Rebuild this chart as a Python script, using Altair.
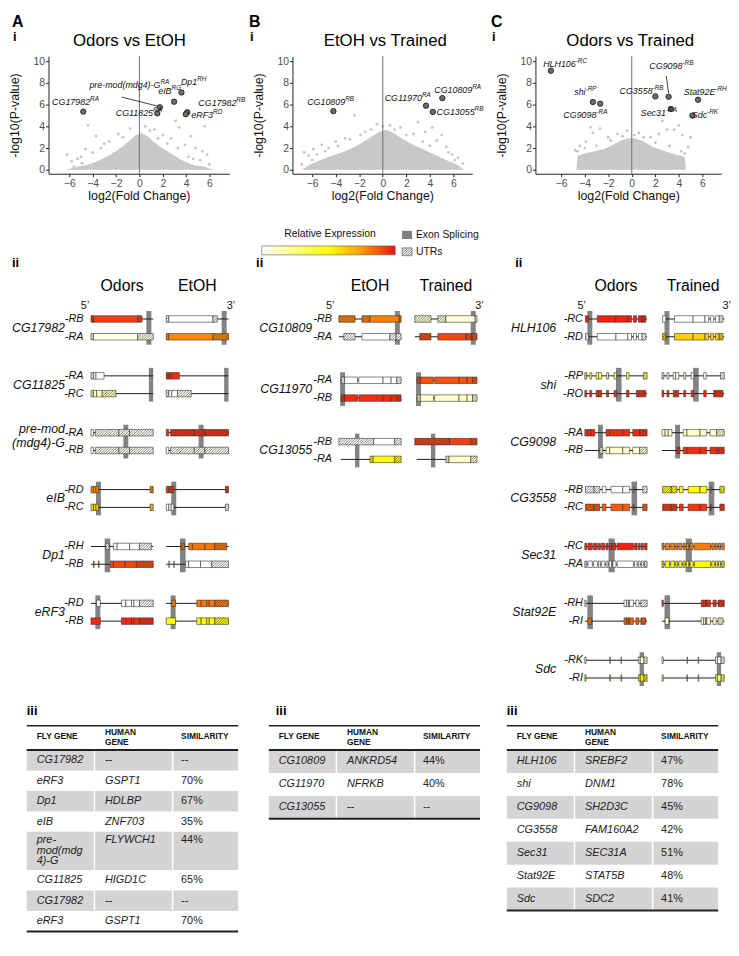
import altair as alt
import pandas as pd

FONT = "Liberation Sans"
INK = "#111111"

# ============================================================ row i : volcano plots
VOL_TITLES = ["Odors vs EtOH", "EtOH vs Trained", "Odors vs Trained"]
VOL_LETTERS = ["A", "B", "C"]
X_TICKS = [-6, -4, -2, 0, 2, 4, 6]
Y_TICKS = [0, 2, 4, 6, 8, 10]

# upper outline of the dense grey cloud of non-significant transcripts
CLOUD_A_X = [-6.3, -5.2, -4.5, -3.8, -3.2, -2.6, -2.0, -1.4, -0.8, -0.3, 0.2, 0.7, 1.2, 1.8, 2.4, 3.0, 3.6, 4.2, 4.8, 5.5, 6.4]
CLOUD_A_Y = [0.0, 0.3, 0.45, 0.7, 1.0, 1.3, 1.7, 2.2, 2.7, 3.2, 3.4, 3.1, 2.6, 2.1, 1.7, 1.3, 0.9, 0.6, 0.4, 0.3, 0.0]
CLOUD_B_X = [-6.9, -6.2, -5.5, -4.8, -4.0, -3.2, -2.4, -1.6, -0.9, -0.3, 0.3, 0.9, 1.6, 2.4, 3.2, 4.0, 4.8, 5.6, 6.3, 6.9]
CLOUD_B_Y = [0.0, 0.5, 0.8, 1.1, 1.4, 1.7, 2.1, 2.6, 3.1, 3.5, 3.7, 3.4, 2.9, 2.4, 2.0, 1.6, 1.2, 0.8, 0.5, 0.0]
CLOUD_C_X = [-4.7, -4.6, -4.0, -3.2, -2.4, -1.6, -0.9, -0.3, 0.3, 1.0, 1.8, 2.6, 3.4, 4.1, 4.5, 4.6]
CLOUD_C_Y = [0.0, 1.3, 1.5, 1.7, 1.9, 2.3, 2.7, 2.9, 2.9, 2.6, 2.1, 1.8, 1.5, 1.3, 1.2, 0.0]

# scattered grey points outside / along the edge of the dense cloud
SCAT_A_X = [-6.2, -5.8, -5.6, -5.3, -5.0, -4.9, -4.6, -4.4, -4.0, -3.7, -3.3, -3.0, -2.6, -2.2, -1.8, -1.4, -0.8,
            0.5, 0.9, 1.3, 1.6, 2.0, 2.4, 2.7, 3.1, 3.3, 3.4, 3.9, 4.2, 4.4, 4.6, 4.8, 5.2, 5.4, 5.6, 5.8, 6.0]
SCAT_A_Y = [1.4, 0.8, 0.3, 1.0, 1.2, 0.6, 1.9, 4.1, 1.6, 3.1, 2.0, 2.4, 2.6, 1.5, 3.3, 3.0, 3.8,
            4.0, 3.6, 3.7, 2.9, 3.2, 2.4, 2.9, 4.5, 2.0, 3.9, 2.3, 1.2, 3.1, 1.0, 2.0, 0.9, 1.7, 4.0, 1.4, 0.5]
SCAT_B_X = [-6.9, -6.7, -6.3, -6.0, -5.9, -5.6, -5.2, -4.9, -4.6, -4.0, -3.8, -3.2, -2.8, -2.4, -1.9, -1.5, -1.0,
            -0.5, 0.0, 0.6, 1.0, 1.5, 2.0, 2.6, 3.0, 3.4, 3.6, 4.0, 4.2, 4.6, 5.0, 5.4, 5.6, 5.9, 6.1, 6.4, 6.8]
SCAT_B_Y = [0.5, 1.6, 1.3, 0.9, 1.9, 1.4, 2.3, 1.7, 2.0, 2.6, 2.2, 2.9, 2.8, 5.0, 3.2, 3.5, 3.7,
            4.2, 4.0, 4.1, 3.7, 3.9, 3.2, 3.3, 4.4, 2.6, 3.5, 2.2, 3.9, 2.7, 3.2, 2.1, 1.6, 1.4, 0.9, 1.1, 0.6]
SCAT_C_X = [-4.8, -4.6, -4.4, -4.0, -3.9, -3.5, -3.3, -3.0, -2.7, -2.0, -1.8, -1.2, -0.8, -0.4, 0.2, 0.6, 1.0,
            1.6, 2.0, 2.3, 2.6, 3.0, 3.2, 3.6, 4.0, 4.2, 4.3, 4.5, 4.8, 5.0]
SCAT_C_Y = [1.8, 1.7, 2.2, 2.0, 2.6, 3.9, 3.4, 2.2, 3.8, 3.0, 2.7, 3.3, 3.1, 3.6, 3.2, 3.4, 3.0,
            3.0, 2.5, 3.3, 4.5, 3.7, 2.2, 3.7, 4.1, 1.7, 3.2, 1.5, 2.1, 3.0]

# highlighted transcripts
HIT_A_X = [-4.8, 1.75, 1.53, 2.97, 3.6, 4.1, 3.97]
HIT_A_Y = [5.36, 5.76, 5.2, 6.27, 7.12, 5.3, 5.12]
HIT_B_X = [-4.2, 3.67, 5.06, 4.25]
HIT_B_Y = [5.4, 5.9, 6.6, 5.33]
HIT_C_X = [-6.87, -3.3, -2.68, 2.0, 3.13, 3.32, 5.63, 5.15]
HIT_C_Y = [9.12, 6.24, 6.09, 6.76, 6.73, 5.6, 6.45, 5.0]

LAB_A_NAME = ["CG17982", "pre-mod(mdg4)-G", "eIB", "Dp1", "CG17982", "eRF3", "CG11825"]
LAB_A_SUP = ["RA", "RA", "RG", "RH", "RB", "RD", "RA"]
LAB_A_X = [-4.22, 1.8, 2.75, 4.95, 8.3, 6.3, 1.17]
LAB_A_Y = [6.0, 7.5, 6.95, 7.8, 5.9, 4.8, 4.94]
LAB_B_NAME = ["CG10809", "CG11970", "CG10809", "CG13055"]
LAB_B_SUP = ["RB", "RA", "RA", "RB"]
LAB_B_X = [-3.2, 3.33, 7.6, 7.8]
LAB_B_Y = [6.0, 6.36, 7.06, 5.03]
LAB_C_NAME = ["HLH106", "shi", "CG9098", "CG3558", "CG9098", "Sec31", "Stat92E", "Sdc"]
LAB_C_SUP = ["-RC", "-RP", "-RA", "-RB", "-RB", "-RA", "-RH", "-RK"]
LAB_C_X = [-4.76, -3.92, -3.0, 1.77, 4.3, 2.9, 7.1, 6.4]
LAB_C_Y = [9.48, 6.9, 4.79, 6.97, 9.27, 4.94, 6.9, 4.79]

LEAD_A = [[-1.53, 6.7, 1.67, 5.83]]
LEAD_B = []
LEAD_C = [[2.93, 8.64, 3.13, 7.06]]

# ============================================================ row ii : isoform structures
EXPR_STOPS = [0, 0.5, 0.75, 1]
EXPR_COLORS = ["#ffffff", "#ffff00", "#ff9900", "#ee1111"]
LEGEND_TITLE = "Relative Expression"
LEGEND_ITEMS = ["Exon Splicing", "UTRs"]

COND_A = ["Odors", "EtOH"]
GENE_A = ["CG17982", "CG11825", "pre-mod\n(mdg4)-G", "eIB", "Dp1", "eRF3"]
ISO_A = [["-RB", "-RA"], ["-RA", "-RC"], ["-RA", "-RB"], ["-RD", "-RC"], ["-RH", "-RB"], ["-RD", "-RB"]]
EXPR_A = [
    [[0.92, 0.00], [0.05, 0.78]],
    [[0.00, 0.95], [0.14, 0.02]],
    [[0.02, 0.95], [0.02, 0.02]],
    [[0.78, 0.95], [0.60, 0.00]],
    [[0.00, 0.82], [0.90, 0.00]],
    [[0.00, 0.82], [0.95, 0.50]],
]
SPLICE_A = [[89, 97], [93, 100], [52, 60], [8, 16], [22, 31], [7, 15]]
SPAN_A = [[[0, 100], [0, 100]]] * 6
EXON_A = [
    [[[0, 4, 1], [4, 75, 0], [75, 82, 1]], [[0, 4, 1], [4, 75, 0], [75, 100, 1]]],
    [[[0, 4, 1], [4, 8, 0], [8, 21, 0]], [[0, 4, 1], [4, 9, 0], [9, 18, 0], [18, 40, 1]]],
    [[[0, 4, 0], [7, 45, 1], [45, 62, 1], [62, 100, 1]], [[0, 4, 0], [7, 45, 1], [45, 62, 1], [62, 100, 1]]],
    [[[0, 4, 0], [4, 8, 0], [8, 12, 0], [95, 100, 1]], [[0, 4, 0], [4, 8, 0], [8, 12, 0], [95, 100, 1]]],
    [[[24, 29, 1], [36, 42, 0], [42, 62, 0], [62, 78, 0], [78, 97, 1]],
     [[4, 5, 0], [12, 13, 0], [31, 36, 0], [36, 55, 0], [55, 73, 0], [73, 100, 1]]],
    [[[9, 15, 0], [49, 56, 0], [56, 65, 0], [65, 69, 0], [69, 78, 0], [78, 100, 1]],
     [[0, 15, 0], [49, 56, 0], [56, 65, 0], [65, 69, 0], [69, 78, 0], [78, 100, 1]]],
]

COND_B = ["EtOH", "Trained"]
GENE_B = ["CG10809", "CG11970", "CG13055"]
ISO_B = [["-RB", "-RA"], ["-RA", "-RB"], ["-RB", "-RA"]]
EXPR_B = [
    [[0.80, 0.08], [0.00, 0.90]],
    [[0.00, 0.88], [0.95, 0.10]],
    [[0.00, 0.92], [0.50, 0.10]],
]
SPLICE_B = [[90, 98], [2, 10], [26, 33]]
SPAN_B = [[[0, 100], [0, 100]], [[3, 100], [3, 100]], [[0, 100], [3, 100]]]
EXON_B = [
    [[[0, 26, 1], [37, 50, 1], [50, 97, 0], [97, 100, 1]], [[8, 26, 1], [37, 82, 0], [82, 92, 1], [92, 100, 1]]],
    [[[4, 9, 1], [9, 30, 0], [32, 71, 0], [71, 84, 0], [84, 93, 0], [93, 100, 1]],
     [[4, 9, 1], [9, 30, 0], [32, 71, 0], [71, 84, 0], [84, 93, 0], [93, 100, 1]]],
    [[[0, 56, 1], [56, 90, 0], [90, 100, 1]], [[50, 55, 1], [55, 90, 0], [90, 100, 1]]],
]

COND_C = ["Odors", "Trained"]
GENE_C = ["HLH106", "shi", "CG9098", "CG3558", "Sec31", "Stat92E", "Sdc"]
ISO_C = [["-RC", "-RD"], ["-RP", "-RO"], ["-RA", "-RB"], ["-RB", "-RC"], ["-RC", "-RA"], ["-RH", "-RI"], ["-RK", "-RI"]]
EXPR_C = [
    [[0.97, 0.00], [0.00, 0.62]],
    [[0.35, 0.03], [0.95, 0.95]],
    [[0.95, 0.10], [0.10, 0.95]],
    [[0.00, 0.50], [0.86, 0.93]],
    [[0.97, 0.80], [0.00, 0.50]],
    [[0.00, 0.95], [0.86, 0.10]],
    [[0.10, 0.05], [0.55, 0.35]],
]
SPLICE_C = [[4, 12], [50, 59], [21, 29], [75, 84], [38, 48], [4, 13], [88, 95]]
SPAN_C = [[[1, 100], [1, 100]], [[0, 100], [0, 100]], [[0, 100], [0, 100]], [[1, 100], [1, 100]],
          [[0, 100], [0, 100]], [[0, 100], [0, 100]], [[0, 100], [0, 100]]]
_SEC31 = [[0, 3], [5, 12], [14, 20], [22, 25], [27, 32], [34, 37], [39, 43], [45, 50], [52, 78], [80, 84], [86, 89], [91, 94], [96, 100]]
EXON_C = [
    [[[1, 6, 0], [20, 50, 0], [50, 69, 0], [69, 75, 0], [78, 83, 0], [86, 92, 0], [92, 98, 1]],
     [[1, 6, 1], [20, 50, 0], [50, 69, 0], [69, 75, 0], [78, 83, 0], [86, 92, 0], [92, 98, 1]]],
    [[[0, 3, 1], [8, 11, 0], [18, 22, 0], [22, 27, 0], [35, 38, 0], [47, 51, 0], [67, 71, 0], [94, 100, 1]],
     [[0, 3, 0], [8, 11, 0], [18, 22, 0], [22, 27, 0], [35, 38, 0], [47, 51, 0], [67, 71, 0], [83, 98, 1]]],
    [[[0, 5, 0], [5, 10, 0], [10, 16, 0], [34, 40, 0], [40, 61, 0], [61, 72, 0], [77, 88, 0], [88, 100, 1]],
     [[24, 29, 1], [34, 40, 0], [40, 61, 0], [61, 72, 0], [77, 88, 0], [88, 100, 1]]],
    [[[1, 15, 1], [15, 24, 1], [28, 34, 0], [42, 61, 0], [61, 72, 0], [78, 79, 0], [93, 100, 1]],
     [[1, 15, 1], [15, 24, 1], [28, 34, 0], [42, 61, 0], [61, 72, 0], [78, 79, 0], [93, 100, 1]]],
    [[[a, b, 0] for a, b in _SEC31],
     [[a, b, 1 if (a == 0 or b == 100) else 0] for a, b in _SEC31]],
    [[[0, 2, 0], [63, 67, 0], [67, 70, 0], [70, 72, 0], [72, 78, 0], [82, 87, 0], [90, 100, 1]],
     [[5, 11, 0], [63, 67, 0], [67, 70, 0], [70, 72, 0], [72, 78, 0], [82, 87, 0], [90, 98, 1]]],
    [[[0, 2, 0], [40, 41, 0], [58, 59, 0], [86, 89, 0], [89, 95, 0], [95, 100, 1]],
     [[0, 2, 0], [40, 41, 0], [58, 59, 0], [86, 89, 0], [89, 95, 0], [95, 100, 1]]],
]

# ============================================================ row iii : homology tables
TABLE_HEAD = ["FLY GENE", "HUMAN\nGENE", "SIMILARITY"]
FLY_A = ["CG17982", "eRF3", "Dp1", "eIB", "pre-\nmod(mdg\n4)-G", "CG11825", "CG17982", "eRF3"]
HUMAN_A = ["--", "GSPT1", "HDLBP", "ZNF703", "FLYWCH1", "HIGD1C", "--", "GSPT1"]
SIM_A = ["--", "70%", "67%", "35%", "44%", "65%", "--", "70%"]
FLY_B = ["CG10809", "CG11970", "CG13055"]
HUMAN_B = ["ANKRD54", "NFRKB", "--"]
SIM_B = ["44%", "40%", "--"]
FLY_C = ["HLH106", "shi", "CG9098", "CG3558", "Sec31", "Stat92E", "Sdc"]
HUMAN_C = ["SREBF2", "DNM1", "SH2D3C", "FAM160A2", "SEC31A", "STAT5B", "SDC2"]
SIM_C = ["47%", "78%", "45%", "42%", "51%", "48%", "41%"]

# ============================================================ layout / style
COL_W = [183, 182, 188]
ROW_H = [119, 465, 207]
SPACE_COL, SPACE_ROW = 64, 47

VOL_XDOM = [[-7.78, 7.69], [-7.68, 7.6], [-8.18, 7.59]]
VOL_YDOM = [-0.36, 10.46]
LETTER_DX = [-37, -44, -45]
TITLE_CX = [82, 94, 96]

PX_PER_UNIT = 0.63
ROW_PX = 18.0
BOX_HALF_PX = 3.3
GENE_YDOM = [20.28, -5.56]
GENE_CFG = [
    dict(xdom=[-68.3, 222.2], gap=3.2, col2=121, name_r=-42, iso_r=-12, five_x=-9.5, roman_x=-127),
    dict(xdom=[-74.6, 214.3], gap=3.45, col2=122, name_r=-43, iso_r=-11, five_x=-14, roman_x=-133),
    dict(xdom=[-79.4, 219.0], gap=3.2, col2=124, name_r=-46, iso_r=-3, five_x=-5, roman_x=-112),
]

TABLE_XDOM = [[0.1028, 0.958], [0.112, 0.963], [0.1355, 1.014]]
TABLE_ROW_PX = [20.7, 23.2, 23.2]
TABLE_HDR_PX = 24.5
TABLE_LINE_PX = 11.0
TABLE_COLS_X = [0.047, 0.37, 0.73]
TABLE_SEP_X = [0.32, 0.69]
ROMAN3_X = [0.0, 0.033, 0.0]


# ------------------------------------------------------------ volcano
def volcano(k, cx, cy, sx, sy, hx, hy, lname, lsup, lx, ly, lead):
    xs = alt.Scale(domain=VOL_XDOM[k], nice=False, zero=False)
    ys = alt.Scale(domain=VOL_YDOM, nice=False, zero=False)
    common = dict(grid=False, domainColor="#222", domainWidth=1, tickColor="#222", tickWidth=1, tickSize=3,
                  labelColor="#4d4d4d", labelFont=FONT, labelFontSize=10.5, titleFont=FONT, titleFontSize=12.5,
                  titleFontWeight="normal", titleColor=INK)
    xax = alt.Axis(values=X_TICKS, title="log2(Fold Change)", labelPadding=2, titlePadding=1, **common)
    yax = alt.Axis(values=Y_TICKS, title="-log10(P-value)", labelPadding=1, titlePadding=12, **common)
    X = lambda f="x": alt.X(f + ":Q", scale=xs, axis=xax)
    Y = lambda f="y": alt.Y(f + ":Q", scale=ys, axis=yax)

    cloud = alt.Chart(pd.DataFrame({"x": cx, "y": cy, "y0": [0.0] * len(cx)})).mark_area(
        color="#c8c8c8").encode(x=X(), y=Y(), y2="y0:Q")
    scat = alt.Chart(pd.DataFrame({"x": sx, "y": sy})).mark_circle(size=8, color="#c4c4c4", opacity=1).encode(
        x=X(), y=Y())
    zero = alt.Chart(pd.DataFrame({"x": [0.0]})).mark_rule(color="#6e6e6e", strokeWidth=1).encode(x=X())
    layers = [cloud, scat, zero]
    if lead:
        ld = pd.DataFrame(lead, columns=["x", "y", "x2", "y2"])
        layers.append(alt.Chart(ld).mark_rule(color=INK, strokeWidth=0.8).encode(
            x=X(), y=Y(), x2="x2:Q", y2="y2:Q"))
    layers.append(alt.Chart(pd.DataFrame({"x": hx, "y": hy})).mark_circle(
        size=30, fill="#6d6d6d", stroke="#111", strokeWidth=0.8, opacity=1).encode(x=X(), y=Y()))
    lab = pd.DataFrame({"x": lx, "y": ly, "t": lname, "s": lsup})
    layers.append(alt.Chart(lab).mark_text(font=FONT, fontStyle="italic", fontSize=9, align="right",
                                           baseline="alphabetic", color=INK).encode(x=X(), y=Y(), text="t:N"))
    layers.append(alt.Chart(lab).mark_text(font=FONT, fontStyle="italic", fontSize=6.5, align="left",
                                           baseline="alphabetic", dy=-4, color=INK).encode(x=X(), y=Y(),
                                                                                          text="s:N"))
    one = pd.DataFrame({"t": [VOL_TITLES[k]], "l": [VOL_LETTERS[k]], "r": ["i"]})
    layers.append(alt.Chart(one).mark_text(font=FONT, fontSize=17, align="center", baseline="alphabetic",
                                           color="#000").encode(x=alt.value(TITLE_CX[k]), y=alt.value(-10),
                                                                text="t:N"))
    layers.append(alt.Chart(one).mark_text(font=FONT, fontSize=16, fontWeight="bold", align="left",
                                           baseline="alphabetic", color="#000").encode(
        x=alt.value(LETTER_DX[k]), y=alt.value(-30), text="l:N"))
    layers.append(alt.Chart(one).mark_text(font=FONT, fontSize=13, fontWeight="bold", align="left",
                                           baseline="alphabetic", color="#000").encode(
        x=alt.value(LETTER_DX[k] + 1), y=alt.value(-15), text="r:N"))
    return alt.layer(*layers).properties(width=COL_W[k], height=ROW_H[0])


# ------------------------------------------------------------ gene structures
def hatch(x0, x1, yc, half_px, out, step=2.6):
    a, b = x0 * PX_PER_UNIT, x1 * PX_PER_UNIT
    H = 2 * half_px
    s = a - H + step / 2
    while s < b:
        t0 = max(0.0, a - s)
        t1 = min(H, b - s)
        if t1 - t0 > 0.4:
            out.append({"x": (s + t0) / PX_PER_UNIT, "y": yc + (half_px - t0) / ROW_PX,
                        "x2": (s + t1) / PX_PER_UNIT, "y2": yc + (half_px - t1) / ROW_PX})
        s += step


def gene_panel(k, genes, isos, expr, splice, span, exons, conds, legend=False):
    cfg = GENE_CFG[k]
    xs = alt.Scale(domain=cfg["xdom"], nice=False, zero=False)
    ys = alt.Scale(domain=GENE_YDOM, nice=False, zero=False)
    hh = BOX_HALF_PX / ROW_PX
    bars, lines, segs, hat, names, isol = [], [], [], [], [], []
    for g, name in enumerate(genes):
        base = g * cfg["gap"]
        nl = name.split("\n")
        for i, part in enumerate(nl):
            yy = base + 0.5 if len(nl) == 1 else base - 0.2 + 0.78 * i
            names.append({"x": cfg["name_r"], "y": yy, "t": part})
        for j in range(2):
            isol.append({"x": cfg["iso_r"], "y": base + j, "t": isos[g][j]})
        for c in range(2):
            off = c * cfg["col2"]
            bars.append({"x": splice[g][0] + off, "x2": splice[g][1] + off, "y": base - 0.45, "y2": base + 1.45})
            for j in range(2):
                yc = base + j
                lines.append({"x": span[g][j][0] + off, "x2": span[g][j][1] + off, "y": yc})
                for a, b, u in exons[g][j]:
                    segs.append({"x": a + off, "x2": b + off, "y": yc - hh, "y2": yc + hh, "v": expr[g][j][c]})
                    if u:
                        hatch(a + off, b + off, yc, BOX_HALF_PX, hat)
    color = alt.Color("v:Q", scale=alt.Scale(type="linear", domain=EXPR_STOPS, range=EXPR_COLORS,
                                             interpolate="rgb", nice=False, zero=False), legend=None)
    X = lambda: alt.X("x:Q", scale=xs, axis=None)
    Y = lambda: alt.Y("y:Q", scale=ys, axis=None)
    layers = [
        alt.Chart(pd.DataFrame(bars)).mark_rect(color="#838383").encode(x=X(), x2="x2:Q", y=Y(), y2="y2:Q"),
        alt.Chart(pd.DataFrame(lines)).mark_rule(color="#1a1a1a", strokeWidth=1).encode(x=X(), x2="x2:Q", y=Y()),
        alt.Chart(pd.DataFrame(segs)).mark_rect(stroke="#333", strokeWidth=0.6).encode(
            x=X(), x2="x2:Q", y=Y(), y2="y2:Q", fill=color),
        alt.Chart(pd.DataFrame(hat)).mark_rule(color="#333", strokeWidth=0.6).encode(
            x=X(), x2="x2:Q", y=Y(), y2="y2:Q"),
        alt.Chart(pd.DataFrame(names)).mark_text(font=FONT, fontStyle="italic", fontSize=12.5, align="right",
                                                 baseline="middle", color=INK).encode(x=X(), y=Y(), text="t:N"),
        alt.Chart(pd.DataFrame(isol)).mark_text(font=FONT, fontStyle="italic", fontSize=11, align="right",
                                                baseline="middle", color=INK).encode(x=X(), y=Y(), text="t:N"),
    ]
    heads = pd.DataFrame({"x": [50, cfg["col2"] + 50], "y": [-1.6, -1.6], "t": conds})
    layers.append(alt.Chart(heads).mark_text(font=FONT, fontSize=16, align="center", baseline="alphabetic",
                                             color="#000").encode(x=X(), y=Y(), text="t:N"))
    ends = pd.DataFrame({"x": [cfg["five_x"], cfg["col2"] + 104], "y": [-0.55, -0.55], "t": ["5’", "3’"]})
    layers.append(alt.Chart(ends).mark_text(font=FONT, fontSize=11, align="center", baseline="alphabetic",
                                            color=INK).encode(x=X(), y=Y(), text="t:N"))
    rom = pd.DataFrame({"x": [cfg["roman_x"]], "y": [-2.94], "t": ["ii"]})
    layers.append(alt.Chart(rom).mark_text(font=FONT, fontSize=13, fontWeight="bold", align="left",
                                           baseline="alphabetic", color="#000").encode(x=X(), y=Y(), text="t:N"))
    if legend:
        grad = alt.LinearGradient(gradient="linear", x1=0, x2=1, y1=0, y2=0,
                                  stops=[alt.GradientStop(color=c, offset=o) for c, o in zip(EXPR_COLORS, EXPR_STOPS)])
        gb = pd.DataFrame({"x": [-124], "x2": [90.5], "y": [-4.11], "y2": [-3.61]})
        layers.append(alt.Chart(gb).mark_rect(color=grad, stroke="#555", strokeWidth=0.6).encode(
            x=X(), x2="x2:Q", y=Y(), y2="y2:Q"))
        sq = pd.DataFrame({"x": [101.6], "x2": [117.5], "y": [-4.96], "y2": [-4.5]})
        layers.append(alt.Chart(sq).mark_rect(color="#7f7f7f").encode(x=X(), x2="x2:Q", y=Y(), y2="y2:Q"))
        hs = pd.DataFrame({"x": [101.6], "x2": [117.5], "y": [-4.0], "y2": [-3.56]})
        layers.append(alt.Chart(hs).mark_rect(fill="#ffffff", stroke="#444", strokeWidth=0.6).encode(
            x=X(), x2="x2:Q", y=Y(), y2="y2:Q"))
        lh = []
        hatch(101.6, 117.5, -3.78, 4.0, lh, step=2.4)
        layers.append(alt.Chart(pd.DataFrame(lh)).mark_rule(color="#444", strokeWidth=0.7).encode(
            x=X(), x2="x2:Q", y=Y(), y2="y2:Q"))
        lt = pd.DataFrame({"x": [-14.3, 123.8, 123.8], "y": [-4.78, -4.72, -3.78],
                           "t": [LEGEND_TITLE] + LEGEND_ITEMS, "a": ["c", "l", "l"]})
        layers.append(alt.Chart(lt[lt.a == "c"]).mark_text(font=FONT, fontSize=10.5, align="center",
                                                          baseline="middle", color=INK).encode(
            x=X(), y=Y(), text="t:N"))
        layers.append(alt.Chart(lt[lt.a == "l"]).mark_text(font=FONT, fontSize=10.5, align="left",
                                                          baseline="middle", color=INK).encode(
            x=X(), y=Y(), text="t:N"))
    return alt.layer(*layers).properties(width=COL_W[k], height=ROW_H[1])


# ------------------------------------------------------------ tables
def table(k, fly, human, sim):
    rh = TABLE_ROW_PX[k]
    xs = alt.Scale(domain=TABLE_XDOM[k], nice=False, zero=False)
    ys = alt.Scale(domain=[ROW_H[2] / rh, 0], nice=False, zero=False)
    X = lambda: alt.X("x:Q", scale=xs, axis=None)
    Y = lambda: alt.Y("y:Q", scale=ys, axis=None)
    hdr = TABLE_HDR_PX / rh
    bands, it, rm = [], [], []
    top = hdr
    for r, (f, h, s) in enumerate(zip(fly, human, sim)):
        parts = f.split("\n")
        height = 1.0 + (TABLE_LINE_PX / rh) * (len(parts) - 1) * 0.82
        if r % 2 == 0:
            bands.append({"x": 0, "x2": 1, "y": top, "y2": top + height})
        if len(parts) == 1:
            ylines = [top + 0.5]
        else:
            ylines = [top + (8 + TABLE_LINE_PX * i) / rh for i in range(len(parts))]
        for p, yy in zip(parts, ylines):
            it.append({"x": TABLE_COLS_X[0], "y": yy, "t": p})
        it.append({"x": TABLE_COLS_X[1], "y": ylines[0], "t": h})
        rm.append({"x": TABLE_COLS_X[2], "y": ylines[0], "t": s})
        top += height
    bottom = top
    head = []
    for t, xx in zip(TABLE_HEAD, TABLE_COLS_X):
        ps = t.split("\n")
        ylist = [10 / rh] if len(ps) == 1 else [6 / rh, 16.5 / rh]
        for p, yy in zip(ps, ylist):
            head.append({"x": xx, "y": yy, "t": p})
    seps = pd.DataFrame({"x": TABLE_SEP_X, "y": [hdr] * 2, "y2": [bottom] * 2})
    layers = [
        alt.Chart(pd.DataFrame(bands)).mark_rect(color="#d4d4d4").encode(x=X(), x2="x2:Q", y=Y(), y2="y2:Q"),
        alt.Chart(seps).mark_rule(color="#ffffff", strokeWidth=1.5).encode(x=X(), y=Y(), y2="y2:Q"),
    ]
    for yv, w in [(0, 1.5), (hdr, 2), (bottom, 2)]:
        layers.append(alt.Chart(pd.DataFrame({"x": [0], "x2": [1], "y": [yv]})).mark_rule(
            color="#222", strokeWidth=w).encode(x=X(), x2="x2:Q", y=Y()))
    layers += [
        alt.Chart(pd.DataFrame(head)).mark_text(font=FONT, fontSize=8.5, fontWeight="bold", align="left",
                                                baseline="middle", color=INK).encode(x=X(), y=Y(), text="t:N"),
        alt.Chart(pd.DataFrame(it)).mark_text(font=FONT, fontSize=11, fontStyle="italic", align="left",
                                              baseline="middle", color="#222").encode(x=X(), y=Y(), text="t:N"),
        alt.Chart(pd.DataFrame(rm)).mark_text(font=FONT, fontSize=11, align="left", baseline="middle",
                                              color="#222").encode(x=X(), y=Y(), text="t:N"),
        alt.Chart(pd.DataFrame({"x": [ROMAN3_X[k]], "y": [-11 / rh], "t": ["iii"]})).mark_text(
            font=FONT, fontSize=13, fontWeight="bold", align="left", baseline="alphabetic", color="#000").encode(
            x=X(), y=Y(), text="t:N"),
    ]
    return alt.layer(*layers).properties(width=COL_W[k], height=ROW_H[2])


charts = [
    volcano(0, CLOUD_A_X, CLOUD_A_Y, SCAT_A_X, SCAT_A_Y, HIT_A_X, HIT_A_Y, LAB_A_NAME, LAB_A_SUP, LAB_A_X, LAB_A_Y, LEAD_A),
    volcano(1, CLOUD_B_X, CLOUD_B_Y, SCAT_B_X, SCAT_B_Y, HIT_B_X, HIT_B_Y, LAB_B_NAME, LAB_B_SUP, LAB_B_X, LAB_B_Y, LEAD_B),
    volcano(2, CLOUD_C_X, CLOUD_C_Y, SCAT_C_X, SCAT_C_Y, HIT_C_X, HIT_C_Y, LAB_C_NAME, LAB_C_SUP, LAB_C_X, LAB_C_Y, LEAD_C),
    gene_panel(0, GENE_A, ISO_A, EXPR_A, SPLICE_A, SPAN_A, EXON_A, COND_A),
    gene_panel(1, GENE_B, ISO_B, EXPR_B, SPLICE_B, SPAN_B, EXON_B, COND_B, legend=True),
    gene_panel(2, GENE_C, ISO_C, EXPR_C, SPLICE_C, SPAN_C, EXON_C, COND_C),
    table(0, FLY_A, HUMAN_A, SIM_A),
    table(1, FLY_B, HUMAN_B, SIM_B),
    table(2, FLY_C, HUMAN_C, SIM_C),
]

chart = alt.concat(*charts, columns=3, bounds="flush",
                   spacing={"row": SPACE_ROW, "column": SPACE_COL}).resolve_scale(
    fill="independent").properties(padding=0).configure(
    font=FONT, view=alt.ViewConfig(stroke="transparent", strokeWidth=0))

chart.save("out.html", embed_options={"renderer": "svg", "actions": False})
